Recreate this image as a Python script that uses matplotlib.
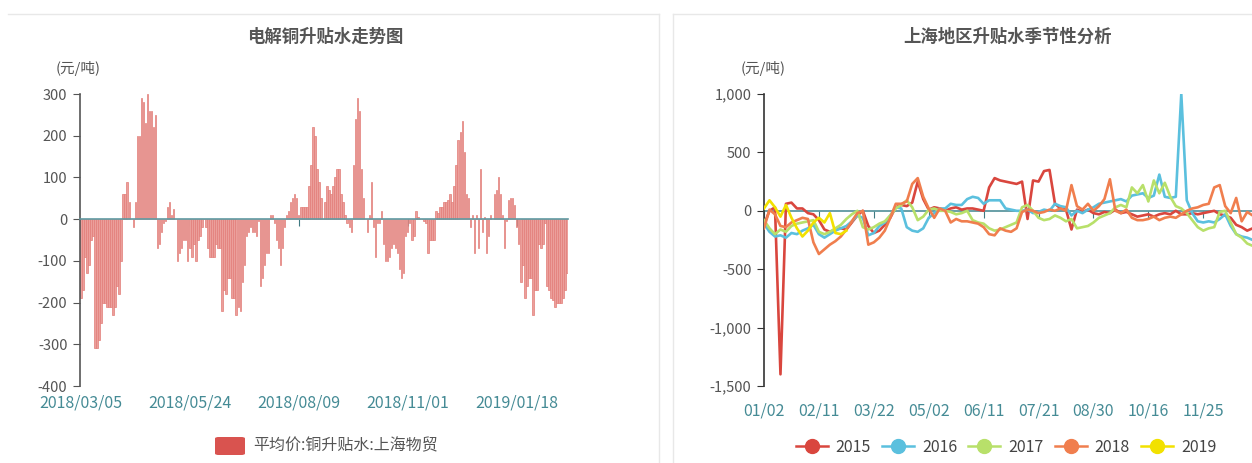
import matplotlib
matplotlib.use('Agg')
import matplotlib.pyplot as plt
from matplotlib.lines import Line2D
from matplotlib.patches import FancyBboxPatch
from matplotlib.ticker import FuncFormatter
import numpy as np

plt.rcParams['font.family'] = ['Noto Sans CJK SC', 'DejaVu Sans']
plt.rcParams['axes.unicode_minus'] = False

# ---------------- data ----------------
left_title = '电解铜升贴水走势图'
right_title = '上海地区升贴水季节性分析'
unit_label = '(元/吨)'
left_series_name = '平均价:铜升贴水:上海物贸'
left_tick_labels = ['2018/03/05', '2018/05/24', '2018/08/09', '2018/11/01', '2019/01/18']
left_tick_every = 54

premium = [
    -190, -170, -90, -130, -110, -50, -40, -310, -310, -290,
    -250, -200, -200, -210, -210, -210, -230, -210, -160, -180,
    -100, 60, 60, 90, 40, 0, -20, 40, 200, 200,
    290, 280, 230, 300, 260, 260, 220, 250, -70, -60,
    -30, -10, -5, 30, 40, 10, 25, 0, -100, -80,
    -70, -50, -50, -100, -70, -90, -60, -100, -50, -40,
    -20, 0, -20, -70, -90, -90, -90, -60, -70, -70,
    -220, -170, -180, -140, -140, -190, -190, -230, -210, -220,
    -150, -110, -40, -30, -20, -30, -30, -40, -5, -160,
    -140, -110, -80, -80, 10, 10, -10, -50, -70, -110,
    -70, -20, 10, 20, 40, 50, 60, 50, 10, 30,
    30, 30, 30, 80, 130, 220, 200, 120, 90, 50,
    0, 40, 80, 70, 60, 80, 100, 120, 120, 60,
    40, 10, -10, -20, -30, 130, 240, 290, 260, 120,
    50, 0, -30, 10, 90, -20, -90, -10, -10, 20,
    -60, -100, -100, -90, -70, -60, -70, -80, -120, -140,
    -130, -40, -30, -10, -50, -40, 20, 5, 0, 0,
    -5, -10, -80, -50, -50, -50, 20, 15, 30, 30,
    40, 40, 45, 60, 40, 80, 130, 190, 210, 235,
    160, 60, 50, -20, 10, -80, 10, -70, 120, -30,
    5, -80, -40, 10, 0, 60, 70, 100, 60, 10,
    -70, -5, 45, 50, 50, 35, -20, -60, -150, -110,
    -190, -160, -140, -140, -230, -170, -170, -60, -70, -60,
    -10, -160, -170, -190, -195, -210, -200, -200, -200, -190,
    -170, -130,
]

season_tick_labels = ['01/02', '02/11', '03/22', '05/02', '06/11', '07/21', '08/30', '10/16', '11/25']
season_tick_every = 10
years = ['2015', '2016', '2017', '2018', '2019']

s2015 = [
    -120, 0, 30, -1400, 60, 70, 20, 20, -20, -30,
    -80, -160, -180, -160, -150, -160, -100, -40, 0, -130,
    -190, -170, -120, -60, 30, 50, 40, 70, 250, 100,
    10, 30, 20, 0, 20, 30, 10, 20, 20, 10,
    0, 200, 280, 260, 250, 240, 230, 250, -70, 260,
    250, 340, 350, 60, 20, 10, -160, 10, -10, 10,
    -20, -30, -10, -20, 10, -20, -10, -30, -50, -40,
    -30, -50, -30, -20, -30, 0, -30, -30, -20, -30,
    -20, -10, 0, -30, -40, -60, -120, -140, -170, -150,
    -150,
]
s2016 = [
    -110, -180, -220, -210, -230, -190, -200, -170, -150, -120,
    -200, -230, -200, -170, -150, -130, -90, -40, -60, -210,
    -190, -130, -100, -40, 30, 20, -140, -170, -180, -150,
    -60, -20, 20, 20, 60, 50, 50, 100, 120, 110,
    60, 90, 90, 90, 20, 10, 0, 0, 10, -20,
    -10, 10, 0, 60, 40, 30, -40, 0, -20, 10,
    30, 60, 70, 80, 90, 100, 80, 130, 140, 150,
    110, 130, 310, 120, 110, 120, 1000, 90, -20, -90,
    -100, -90, -100, -70, -30, -130, -200, -220, -230, -250,
    -260,
]
s2017 = [
    -80, -150, -200, -160, -180, -130, -110, -100, -90, -80,
    -180, -200, -180, -150, -120, -70, -30, 0, -140, -160,
    -140, -110, -90, -40, 20, 50, 90, 30, -80, -50,
    10, 20, 0, 0, -10, -30, -20, 0, -80, -100,
    -110, -150, -170, -160, -140, -120, -100, 30, 50, 0,
    -60, -80, -70, -40, -60, -90, -70, -150, -140, -130,
    -100, -60, -40, -20, 30, 50, 30, 200, 150, 220,
    80, 260, 150, 240, 120, 40, 20, -20, -80, -140,
    -170, -150, -140, -10, 0, -100, -200, -230, -280, -300,
    -250,
]
s2018 = [
    -150, 10, -30, -130, -140, -100, -80, -60, -70, -270,
    -370, -330, -290, -260, -220, -160, -90, -20, 0, -290,
    -270, -230, -170, -60, 60, 60, 80, 230, 280, 120,
    20, -60, 20, 0, -100, -70, -90, -90, -100, -110,
    -140, -200, -210, -150, -170, -180, -150, -10, 10, 0,
    -20, -10, 10, 0, 20, 0, 220, 40, 10, 60,
    0, 40, 100, 270, 0, -20, 10, -60, -80, -80,
    -70, -50, -80, -60, -50, -60, -30, 0, 20, 30,
    50, 60, 200, 220, 40, -20, 110, -90, -10, -40,
    -20,
]
s2019 = [20, 90, 30, -50, 50, -60, -150, -220, -170, -100, -60, -100, -20, -190, -200, -170]

colors = ['#d9463e', '#5bc0de', '#b8e06a', '#f07e4e', '#f2e100']

# ---------------- figure ----------------
W, H = 1252, 463
fig = plt.figure(figsize=(W / 100, H / 100), dpi=100)


def fx(px):
    return px / W


def fy(py):
    return 1 - py / H


border = '#e8e8e8'
fig.add_artist(Line2D([fx(8), fx(659)], [fy(14), fy(14)], color=border, lw=1))
fig.add_artist(Line2D([fx(659), fx(659)], [fy(14), fy(463)], color=border, lw=1))
fig.add_artist(Line2D([fx(673), fx(1252)], [fy(14), fy(14)], color=border, lw=1))
fig.add_artist(Line2D([fx(673), fx(673)], [fy(14), fy(463)], color=border, lw=1))

grey = '#555555'
teal = '#458b95'
axis_col = '#555555'

# ---------------- left chart ----------------
ax1 = fig.add_axes([fx(80), fy(386), fx(568) - fx(80), (386 - 94) / H])
idx = np.arange(len(premium))
ax1.bar(idx, premium, width=0.72, color='#eb9f9b', edgecolor='#e27d78', linewidth=0.5, zorder=2)
ax1.set_xlim(-0.4, len(premium) - 0.6)
ax1.set_ylim(-400, 300)
ax1.set_yticks(range(-400, 301, 100))
ax1.set_xticks([i * left_tick_every for i in range(len(left_tick_labels))])
ax1.set_xticklabels(left_tick_labels)
for s in ['top', 'right']:
    ax1.spines[s].set_visible(False)
ax1.spines['left'].set_color(axis_col)
ax1.spines['left'].set_linewidth(1.2)
ax1.spines['bottom'].set_position(('data', 0))
ax1.spines['bottom'].set_color('#5f9aa2')
ax1.spines['bottom'].set_linewidth(1.2)
ax1.spines['bottom'].set_zorder(3)
ax1.tick_params(axis='y', length=5, color=axis_col, labelcolor=grey, labelsize=10.5, pad=4)
ax1.tick_params(axis='x', length=5, color='#3f7a82', labelcolor=teal, labelsize=11.5, pad=121)
ax1.set_facecolor('none')

fig.text(fx(325), fy(37), left_title, ha='center', va='center', fontsize=12.5, fontweight='bold', color=grey)
fig.text(fx(78), fy(68), unit_label, ha='center', va='center', fontsize=10.5, color=grey)

fig.add_artist(FancyBboxPatch((fx(215), fy(455)), fx(245) - fx(215), 18 / H,
                              boxstyle='round,pad=0,rounding_size=0.003', transform=fig.transFigure,
                              fc='#d9534f', ec='none'))
fig.text(fx(253), fy(446), left_series_name, ha='left', va='center', fontsize=11.5, color=grey)

# ---------------- right chart ----------------
ax2 = fig.add_axes([fx(764), fy(386), fx(1262) - fx(764), (386 - 94) / H])
for name, vals, c in zip(years, [s2015, s2016, s2017, s2018, s2019], colors):
    ax2.plot(np.arange(len(vals)), vals, color=c, lw=1.9, zorder=3, solid_joinstyle='round')
ax2.set_xlim(0, 90.7)
ax2.set_ylim(-1500, 1000)
ax2.set_yticks(range(-1500, 1001, 500))
ax2.yaxis.set_major_formatter(FuncFormatter(lambda v, p: f'{int(v):,}'))
ax2.set_xticks([i * season_tick_every for i in range(len(season_tick_labels))])
ax2.set_xticklabels(season_tick_labels)
for s in ['top', 'right']:
    ax2.spines[s].set_visible(False)
ax2.spines['left'].set_color('#333333')
ax2.spines['left'].set_linewidth(1.2)
ax2.spines['bottom'].set_position(('data', 0))
ax2.spines['bottom'].set_color('#4f8f98')
ax2.spines['bottom'].set_linewidth(1.2)
ax2.spines['bottom'].set_zorder(2)
ax2.tick_params(axis='y', length=5, color='#333333', labelcolor=grey, labelsize=10.5, pad=4)
ax2.tick_params(axis='x', length=5, color='#3f7a82', labelcolor=teal, labelsize=11.5, pad=133)
ax2.set_facecolor('none')

fig.text(fx(1008), fy(37), right_title, ha='center', va='center', fontsize=12.5, fontweight='bold', color=grey)
fig.text(fx(763), fy(68), unit_label, ha='center', va='center', fontsize=10.5, color=grey)

handles = [Line2D([], [], color=c, lw=1.8, marker='o', markersize=10) for c in colors]
fig.legend(handles, years, loc='center', bbox_to_anchor=(fx(1006), fy(447)), ncol=5, frameon=False,
           fontsize=11.5, handlelength=2.0, handletextpad=0.5, columnspacing=0.7, labelcolor='#444444')

fig.savefig('out.png', dpi=100)
